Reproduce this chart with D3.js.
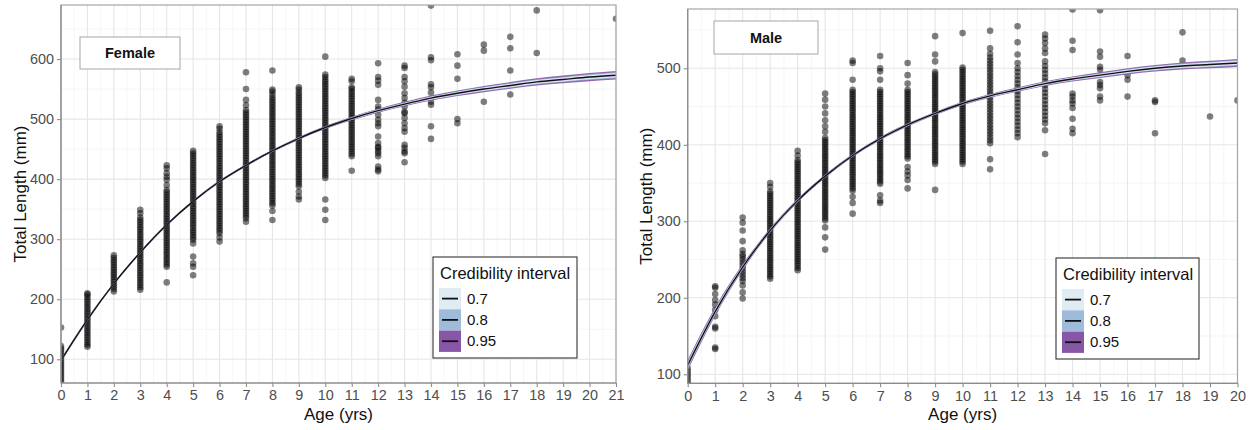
<!DOCTYPE html>
<html>
<head>
<meta charset="utf-8">
<script src="https://cdn.jsdelivr.net/npm/d3@7"></script>
<style>
  html, body { margin: 0; padding: 0; background: #fff; }
  svg { display: block; }
  text { font-family: "Liberation Sans", Arial, sans-serif; }
</style>
</head>
<body>
<svg id="chart" width="1249" height="430"></svg>
<script>
// ---------------- DATA ----------------
const femaleAgeTicks = [0,1,2,3,4,5,6,7,8,9,10,11,12,13,14,15,16,17,18,19,20,21];
const maleAgeTicks   = [0,1,2,3,4,5,6,7,8,9,10,11,12,13,14,15,16,17,18,19,20];
const femaleLengthTicks = [100,200,300,400,500,600];
const maleLengthTicks   = [100,200,300,400,500];
const ciLevels = ["0.7","0.8","0.95"];
const ciColors = ["#e0ecf4","#9ebcda","#8856a7"];

// observed total lengths (mm) by age (index = age in years)
const femaleLengths = [
  [62,66,70,74,78,82,86,90,94,98,102,106,110,114,118,122,153],
  [121,124,128,132,136,140,144,148,152,156,160,164,168,172,176,180,184,188,192,196,200,204,208,210],
  [213,217,221,225,229,233,237,241,245,249,253,257,261,265,269,273],
  [216,220,224,228,232,236,240,244,248,252,256,260,264,268,272,276,280,284,288,292,296,300,304,308,312,316,320,324,328,332,336,343,349],
  [228,254,258,262,266,270,274,278,282,286,290,294,298,302,306,310,314,318,322,326,330,334,338,342,346,350,354,358,362,366,370,374,378,382,390,399,404,410,418,423],
  [240,254,260,271,293,299,303,307,311,315,319,323,327,331,335,339,343,347,351,355,359,363,367,371,375,379,383,387,391,395,399,403,407,411,415,419,423,427,431,435,439,443,447],
  [296,303,310,314,318,322,326,330,334,338,342,346,350,354,358,362,366,370,374,378,382,386,390,394,398,402,406,410,414,418,422,426,430,434,438,442,446,450,454,458,462,466,470,474,478,484,488],
  [329,335,339,343,347,351,355,359,363,367,371,375,379,383,387,391,395,399,403,407,411,415,419,423,427,431,435,439,443,447,451,455,459,463,467,471,475,479,483,487,491,495,499,503,507,511,515,523,532,550,578],
  [332,347,356,360,364,368,372,376,380,384,388,392,396,400,404,408,412,416,420,424,428,432,436,440,444,448,452,456,460,464,468,472,476,480,484,488,492,496,500,504,508,512,516,520,524,528,532,536,541,546,549,581],
  [366,371,379,388,392,396,400,404,408,412,416,420,424,428,432,436,440,444,448,452,456,460,464,468,472,476,480,484,488,492,496,500,504,508,512,516,520,524,528,532,536,540,544,549,553],
  [332,349,366,402,406,410,414,418,422,426,430,434,438,442,446,450,454,458,462,466,470,474,478,482,486,490,494,498,502,506,510,514,518,522,526,530,534,538,542,546,550,554,558,562,566,570,574,604],
  [414,438,442,446,450,454,458,462,466,470,474,478,482,486,490,494,498,502,506,510,514,518,522,526,530,534,538,542,546,550,553,563,567],
  [413,416,421,438,443,447,452,454,460,471,488,493,499,507,516,521,532,557,564,570,593],
  [428,443,446,452,457,479,485,493,502,510,512,521,527,535,543,554,563,570,585,589],
  [467,488,524,529,544,553,558,598,603,689],
  [493,500,567,589,608],
  [529,614,624],
  [541,581,618,637],
  [610,681],
  [],
  [],
  [667]
];

const maleLengths = [
  [88,92,96,100,104,108],
  [133,135,160,162,176,184,191,197,205,213,215],
  [199,207,216,222,226,230,234,238,242,246,250,254,257,262,274,288,298,305],
  [225,228,231,234,237,240,243,246,249,252,255,258,261,264,267,270,273,276,279,282,285,288,291,294,297,300,303,306,309,312,315,318,321,324,327,330,333,336,339,345,350],
  [236,239,242,245,248,251,254,257,260,263,266,269,272,275,278,281,284,287,290,293,296,299,302,305,308,311,314,317,320,323,326,329,332,335,338,341,344,347,350,353,356,359,362,365,368,371,374,377,380,386,392],
  [263,279,292,301,304,307,310,313,316,319,322,325,328,331,334,337,340,343,346,349,352,355,358,361,364,367,370,373,376,379,382,385,388,391,394,397,400,403,406,409,417,424,432,441,450,459,467],
  [310,324,332,340,343,346,349,352,355,358,361,364,367,370,373,376,379,382,385,388,391,394,397,400,403,406,409,412,415,418,421,424,427,430,433,436,439,442,445,448,451,454,457,460,463,466,469,472,485,507,510],
  [324,327,334,349,352,355,358,361,364,367,370,373,376,379,382,385,388,391,394,397,400,403,406,409,412,415,418,421,424,427,430,433,436,439,442,445,448,451,454,457,460,463,466,469,472,485,496,500,516],
  [343,354,360,365,371,382,385,388,391,394,397,400,403,406,409,412,415,418,421,424,427,430,433,436,439,442,445,448,451,454,457,460,463,466,469,472,480,491,507],
  [341,375,378,381,384,387,390,393,396,399,402,405,408,411,414,417,420,423,426,429,432,435,438,441,444,447,450,453,456,459,462,465,468,471,474,477,480,483,486,489,492,495,509,518,542],
  [375,378,381,384,387,390,393,396,399,402,405,408,411,414,417,420,423,426,429,432,435,438,441,444,447,450,453,456,459,462,465,468,471,474,477,480,483,486,489,492,495,498,501,546],
  [368,381,402,406,410,414,418,422,426,430,434,438,442,446,450,454,458,462,466,470,474,478,482,486,490,494,498,502,506,510,514,519,526,549],
  [410,415,420,425,430,435,440,445,450,455,460,465,470,475,480,485,490,495,500,507,518,534,555],
  [388,419,428,433,438,443,448,453,458,463,468,473,478,483,488,493,498,503,509,520,526,533,539,544],
  [415,421,434,448,454,458,463,467,524,536,577],
  [458,463,474,478,482,498,502,515,522,576],
  [463,485,491,516],
  [415,456,458],
  [510,547],
  [437],
  [458]
];

// posterior mean growth curve (mm) at each age
const femaleCurve = [98,166,226,278,324,363,396,423,447,468,486,501,514,525,535,543,550,556,562,566,570,573];
const maleCurve   = [112,182,240,288,327,359,386,408,426,441,454,464,472,480,486,491,496,500,503,505,507];

// half-widths (mm) of credibility intervals at each age
const femaleHalf95 = [3,2.5,2,2,2,2,2,2,2,2.2,2.6,3,3.4,3.8,4.2,4.7,5.2,5.6,6,6.4,6.8,7.2];
const femaleHalf80 = [2,1.7,1.4,1.3,1.3,1.3,1.3,1.3,1.4,1.5,1.7,2,2.3,2.5,2.8,3.1,3.4,3.7,4,4.2,4.5,4.8];
const femaleHalf70 = [1.6,1.3,1.1,1,1,1,1,1,1.1,1.2,1.4,1.6,1.8,2,2.2,2.5,2.7,2.9,3.1,3.3,3.5,3.8];
const maleHalf95 = [7,5.5,4,3,2.5,2.2,2,2,2,2,2.2,2.5,2.8,3.1,3.4,3.7,4,4.3,4.6,4.9,5.2];
const maleHalf80 = [4.6,3.6,2.7,2,1.7,1.5,1.3,1.3,1.3,1.3,1.5,1.7,1.9,2.1,2.3,2.5,2.7,2.9,3.1,3.3,3.5];
const maleHalf70 = [3.7,2.9,2.1,1.6,1.3,1.2,1.1,1.1,1.1,1.1,1.2,1.3,1.5,1.7,1.8,2,2.1,2.3,2.4,2.6,2.8];

// ---------------- DRAW ----------------
const svg = d3.select("#chart");

function drawPanel(cfg) {
  const {id, label, ages, lengths, curve, halves, yTicks, xDomain, yDomain,
         left, right, top, bottom, labelBox, legendBox, yTitleX} = cfg;
  const x = d3.scaleLinear().domain(xDomain).range([left, right]);
  const y = d3.scaleLinear().domain(yDomain).range([bottom, top]);
  const g = svg.append("g");

  g.append("clipPath").attr("id", "clip" + id)
    .append("rect").attr("x", left).attr("y", top)
    .attr("width", right - left).attr("height", bottom - top);

  // minor grid
  const minorX = ages.slice(0, -1).map(a => a + 0.5);
  const minorY = yTicks.map(v => v - 50).concat([yTicks[yTicks.length - 1] + 50])
    .filter(v => v > yDomain[0] && v < yDomain[1]);
  g.selectAll(".mx").data(minorX).join("line")
    .attr("x1", d => x(d)).attr("x2", d => x(d)).attr("y1", top).attr("y2", bottom)
    .attr("stroke", "#f2f2f2").attr("stroke-width", 0.7);
  g.selectAll(".my").data(minorY).join("line")
    .attr("y1", d => y(d)).attr("y2", d => y(d)).attr("x1", left).attr("x2", right)
    .attr("stroke", "#f2f2f2").attr("stroke-width", 0.7);
  // major grid
  g.selectAll(".gx").data(ages).join("line")
    .attr("x1", d => x(d)).attr("x2", d => x(d)).attr("y1", top).attr("y2", bottom)
    .attr("stroke", "#e6e6e6").attr("stroke-width", 1.1);
  g.selectAll(".gy").data(yTicks).join("line")
    .attr("y1", d => y(d)).attr("y2", d => y(d)).attr("x1", left).attr("x2", right)
    .attr("stroke", "#e6e6e6").attr("stroke-width", 1.1);

  const inner = g.append("g").attr("clip-path", `url(#clip${id})`);

  // points
  const pts = [];
  lengths.forEach((arr, age) => arr.forEach(v => pts.push({age, v})));
  inner.selectAll("circle").data(pts).join("circle")
    .attr("cx", d => x(d.age)).attr("cy", d => y(d.v)).attr("r", 3.3)
    .attr("fill", "#000").attr("fill-opacity", 0.5);

  // credibility bands (widest first)
  const bandData = [[2, halves[0]], [1, halves[1]], [0, halves[2]]];
  bandData.forEach(([ci, half]) => {
    const area = d3.area()
      .x((d, i) => x(ages[i]))
      .y0((d, i) => y(curve[i] - half[i]))
      .y1((d, i) => y(curve[i] + half[i]))
      .curve(d3.curveMonotoneX);
    inner.append("path").datum(curve).attr("d", area)
      .attr("fill", ciColors[ci]).attr("fill-opacity", 0.9);
  });
  const line = d3.line().x((d, i) => x(ages[i])).y(d => y(d)).curve(d3.curveMonotoneX);
  inner.append("path").datum(curve).attr("d", line)
    .attr("fill", "none").attr("stroke", "#111").attr("stroke-width", 1.4);

  // panel border
  g.append("rect").attr("x", left).attr("y", top)
    .attr("width", right - left).attr("height", bottom - top)
    .attr("fill", "none").attr("stroke", "#a6a6a6").attr("stroke-width", 1.2);
  g.append("line").attr("x1", left).attr("x2", right).attr("y1", bottom).attr("y2", bottom)
    .attr("stroke", "#8c8c8c").attr("stroke-width", 1.2);
  g.append("line").attr("x1", left).attr("x2", left).attr("y1", top).attr("y2", bottom)
    .attr("stroke", "#8c8c8c").attr("stroke-width", 1.2);

  // axes
  const xAxis = d3.axisBottom(x).tickValues(ages).tickSize(4).tickPadding(3);
  const yAxis = d3.axisLeft(y).tickValues(yTicks).tickSize(4).tickPadding(3);
  const gx = g.append("g").attr("transform", `translate(0,${bottom})`).call(xAxis);
  const gy = g.append("g").attr("transform", `translate(${left},0)`).call(yAxis);
  [gx, gy].forEach(a => {
    a.select(".domain").remove();
    a.selectAll(".tick line").attr("stroke", "#8c8c8c").attr("stroke-width", 1.1);
    a.selectAll(".tick text").attr("fill", "#4d4d4d").attr("font-size", 14.4)
      .attr("font-family", "Liberation Sans, Arial, sans-serif");
  });

  // axis titles
  g.append("text").attr("x", (left + right) / 2).attr("y", 420)
    .attr("text-anchor", "middle").attr("font-size", 17).attr("fill", "#111")
    .text("Age (yrs)");
  g.append("text").attr("transform", `translate(${yTitleX},${(top + bottom) / 2}) rotate(-90)`)
    .attr("text-anchor", "middle").attr("font-size", 17).attr("fill", "#111")
    .text("Total Length (mm)");

  // panel label box
  g.append("rect").attr("x", labelBox.x).attr("y", labelBox.y)
    .attr("width", labelBox.w).attr("height", labelBox.h)
    .attr("fill", "#fff").attr("stroke", "#a6a6a6").attr("stroke-width", 1);
  g.append("text").attr("x", labelBox.x + labelBox.w / 2).attr("y", labelBox.y + labelBox.h / 2 + 5)
    .attr("text-anchor", "middle").attr("font-size", 14.5).attr("font-weight", "bold")
    .attr("font-family", "Lato, sans-serif").attr("fill", "#111").text(label);

  // legend
  const L = legendBox;
  g.append("rect").attr("x", L.x).attr("y", L.y).attr("width", L.w).attr("height", L.h)
    .attr("fill", "#fff").attr("stroke", "#333").attr("stroke-width", 1.1);
  g.append("text").attr("x", L.x + 7).attr("y", L.y + 22)
    .attr("font-size", 16.5).attr("fill", "#111").text("Credibility interval");
  ciLevels.forEach((lev, i) => {
    const ky = L.y + 31 + i * 21.3;
    g.append("rect").attr("x", L.x + 6).attr("y", ky).attr("width", 22).attr("height", 21.3)
      .attr("fill", ciColors[i]);
    g.append("line").attr("x1", L.x + 9).attr("x2", L.x + 25)
      .attr("y1", ky + 10.6).attr("y2", ky + 10.6)
      .attr("stroke", "#111").attr("stroke-width", 1.8);
    g.append("text").attr("x", L.x + 34).attr("y", ky + 15.5)
      .attr("font-size", 15).attr("fill", "#111").text(lev);
  });
}

drawPanel({
  id: "f", label: "Female", ages: femaleAgeTicks, lengths: femaleLengths,
  curve: femaleCurve, halves: [femaleHalf95, femaleHalf80, femaleHalf70],
  yTicks: femaleLengthTicks, xDomain: [0, 21], yDomain: [60.5, 690],
  left: 61, right: 616, top: 5, bottom: 383,
  labelBox: {x: 80, y: 37, w: 100, h: 32},
  legendBox: {x: 433, y: 257, w: 144, h: 101},
  yTitleX: 26
});
drawPanel({
  id: "m", label: "Male", ages: maleAgeTicks, lengths: maleLengths,
  curve: maleCurve, halves: [maleHalf95, maleHalf80, maleHalf70],
  yTicks: maleLengthTicks, xDomain: [0, 20], yDomain: [88.2, 577.5],
  left: 687.7, right: 1237.5, top: 9, bottom: 383.3,
  labelBox: {x: 714, y: 21, w: 104, h: 33},
  legendBox: {x: 1056, y: 258, w: 143, h: 101},
  yTitleX: 652
});
</script>
</body>
</html>
